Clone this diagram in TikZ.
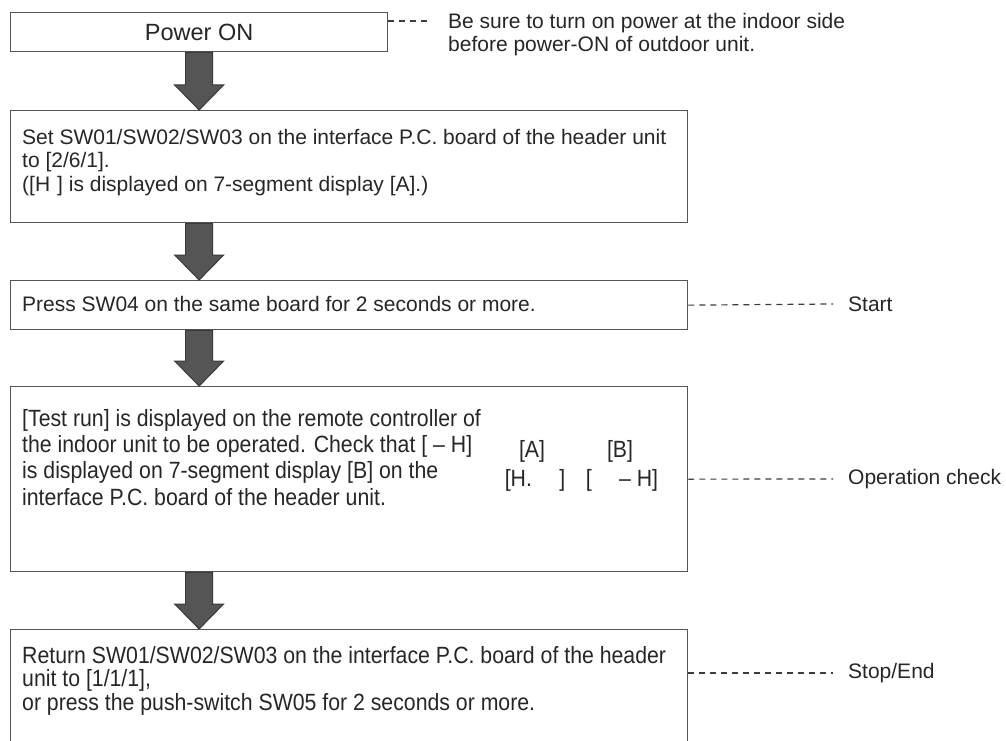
\documentclass[tikz,border=0pt]{standalone}
\usepackage{fontspec}
\setmainfont{Liberation Sans}
\newfontfamily\narrowsf[FakeStretch=0.905,Ligatures=TeX]{Liberation Sans}
\usepackage{xcolor}
\definecolor{cLine}{HTML}{555555}
\definecolor{cText}{HTML}{262626}
\definecolor{cArrow}{HTML}{555555}
\definecolor{cArrowEdge}{HTML}{3A3A3A}
\definecolor{cDash}{HTML}{3C3C3C}
\usetikzlibrary{positioning,calc}
\tikzset{
  stepbox/.style={draw=cLine,line width=1.3pt,anchor=north west,inner sep=0pt},
  steptext/.style={text=cText,font=\fontsize{21}{23.5}\selectfont,
    align=left,anchor=north west,inner sep=0pt},
  steptext-narrow/.style={steptext,font=\narrowsf\fontsize{23.5}{26.3}\selectfont},
  note/.style={text=cText,font=\fontsize{21}{23.5}\selectfont,align=left,
    anchor=west,inner sep=0pt},
  note-line/.style={draw=cDash,line width=1.2pt,dash pattern=on 6pt off 5pt},
  flow-arrow/.style={fill=cArrow,draw=cArrowEdge,line width=1pt,line join=miter},
}
% block arrow between two boxes, kept on the axis of the first box
\newcommand{\flowarrow}[2]{%
  \path (#1.south -| pwr.south) coordinate (a0) (#2.north -| pwr.south) coordinate (a1);
  \draw[flow-arrow] ($(a0)+(-13.5,0)$) -- ($(a1)+(-13.5,-25)$) -- ($(a1)+(-24.5,-25)$)
    -- (a1) -- ($(a1)+(24.5,-25)$) -- ($(a1)+(13.5,-25)$) -- ($(a0)+(13.5,0)$) -- cycle;
}
\begin{document}
\begin{tikzpicture}[x=1pt,y=-1pt]
  \useasboundingbox (0,0) rectangle (1006,741);
  \begin{scope}
    \clip (0,0) rectangle (1006,741);
    % boxes
    \node[stepbox,minimum width=377pt,minimum height=39pt] (pwr) at (10,12) {};
    \node[stepbox,minimum width=677pt,minimum height=112pt] (set) at (10,110) {};
    \node[stepbox,minimum width=677pt,minimum height=49pt] (press) at (10,280) {};
    \node[stepbox,minimum width=677pt,minimum height=185pt] (check) at (10,386) {};
    \node[stepbox,minimum width=677pt,minimum height=140pt] (ret) at (10,629) {};
  \end{scope}

  \node[text=cText,font=\fontsize{23.5}{26}\selectfont] (pwrtxt) at (pwr.center) {Power ON};

  \node[steptext,below right=19pt and 12pt of set.north west] (settxt)
    {Set SW01/SW02/SW03 on the interface P.C. board of the header unit\\
     to [2/6/1].\\
     ([H\,\,] is displayed on 7-segment display [A].)};
  \node[steptext,below right=16pt and 12pt of press.north west] (presstxt)
    {Press SW04 on the same board for 2 seconds or more.};
  \node[steptext-narrow,below right=23pt and 12pt of check.north west] (checktxt)
    {[Test run] is displayed on the remote controller of\\
     the indoor unit to be operated. Check that [ -- H]\\
     is displayed on 7-segment display [B] on the\\
     interface P.C. board of the header unit.};
  \node[steptext-narrow,below right=17pt and 12pt of ret.north west,
    font=\narrowsf\fontsize{23.5}{23.5}\selectfont] (rettxt)
    {Return SW01/SW02/SW03 on the interface P.C. board of the header\\
     unit to [1/1/1],\\
     or press the push-switch SW05 for 2 seconds or more.};

  % display readings
  \node[steptext-narrow,anchor=center] (dispA) at (532,451) {[A]};
  \node[steptext-narrow,anchor=center] (dispB) at (620,451) {[B]};
  \node[steptext-narrow,anchor=center] (readA) at (535,480) {[H.\quad\,]};
  \node[steptext-narrow,anchor=center] (readB) at (622,480) {[\quad\,-- H]};

  % arrows
  \flowarrow{pwr}{set}
  \flowarrow{set}{press}
  \flowarrow{press}{check}
  \flowarrow{check}{ret}

  % side notes
  \coordinate (pwrtap) at (pwr.north east |- 0,21);
  \node[note,anchor=north west] (pwrnote) at (448,13)
    {Be sure to turn on power at the indoor side\\
     before power-ON of outdoor unit.};
  \draw[note-line] (pwrtap) -- (pwrtap -| 431,0);

  \node[note] (startnote) at (848,304) {Start};
  \draw[note-line] (press.east) -- (startnote.west -| 833,0);
  \node[note] (opnote) at (848,479) {Operation check};
  \draw[note-line] (check.east) -- (opnote.west -| 833,0);
  \node[note] (endnote) at (848,673) {Stop/End};
  \draw[note-line] (ret.east |- endnote.west) -- (endnote.west -| 833,0);
\end{tikzpicture}
\end{document}
